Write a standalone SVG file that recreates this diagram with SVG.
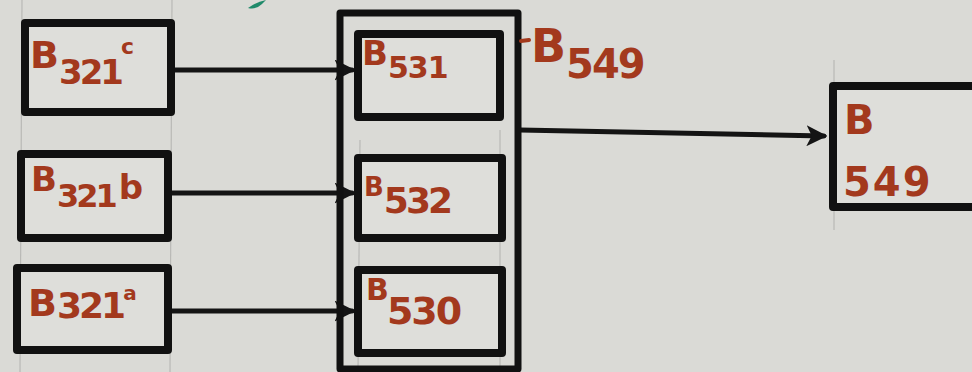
<svg xmlns="http://www.w3.org/2000/svg" width="972" height="372" viewBox="0 0 972 372">
  <defs>
    <style>
      .bg { fill: #dadad6; }
      .guide { stroke: #b9b9b6; stroke-width: 1.2; fill: none; }
      .box { fill: #dededa; stroke: #111111; stroke-width: 8; stroke-linejoin: round; }
      .frame { fill: none; stroke: #111111; stroke-width: 7; stroke-linejoin: round; }
      .line { stroke: #141414; stroke-width: 5; fill: none; stroke-linecap: round; }
      .lbl { font-family: "DejaVu Sans", "Liberation Sans", sans-serif; font-weight: bold; fill: #a3391d; }
    </style>
    <marker id="arrow" viewBox="0 0 12 12" refX="10" refY="6" markerWidth="4.2" markerHeight="4.2" orient="auto" markerUnits="strokeWidth">
      <path d="M0,0 L12,6 L0,12 L3,6 Z" fill="#141414"/>
    </marker>
  </defs>

  <rect class="bg" x="0" y="0" width="972" height="372"/>

  <!-- faint pencil guides -->
  <line class="guide" x1="22" y1="0" x2="20" y2="372"/>
  <line class="guide" x1="172" y1="0" x2="170" y2="372"/>
  <line class="guide" x1="360" y1="140" x2="358" y2="372"/>
  <line class="guide" x1="500" y1="130" x2="500" y2="372"/>
  <line class="guide" x1="834" y1="60" x2="834" y2="230"/>
  <!-- green pen mark -->
  <path d="M248,8 Q256,2 266,0 L262,4 Q256,10 248,8 Z" fill="#1f8a6a"/>

  <!-- connectors -->
  <g id="connectors">
    <line class="line" x1="172" y1="70" x2="352" y2="70" marker-end="url(#arrow)"/>
    <line class="line" x1="168" y1="193" x2="352" y2="193" marker-end="url(#arrow)"/>
    <line class="line" x1="168" y1="311" x2="352" y2="311" marker-end="url(#arrow)"/>
    <line class="line" x1="520" y1="130" x2="824" y2="136" marker-end="url(#arrow)"/>
  </g>

  <!-- left column -->
  <g id="node-B321c">
    <rect class="box" x="25" y="23" width="146" height="89"/>
    <text class="lbl" x="30" y="68" font-size="38">B<tspan font-size="34" dy="16" letter-spacing="-3">321</tspan><tspan font-size="22" dy="-30">c</tspan></text>
  </g>
  <g id="node-B321b">
    <rect class="box" x="21" y="154" width="147" height="84"/>
    <text class="lbl" x="31" y="191" font-size="34">B<tspan font-size="32" dy="16" letter-spacing="-3">321</tspan><tspan font-size="34" dy="-8" dx="4">b</tspan></text>
  </g>
  <g id="node-B321a">
    <rect class="box" x="17" y="268" width="151" height="82"/>
    <text class="lbl" x="28" y="316" font-size="38">B<tspan font-size="36" dy="2" letter-spacing="-3">321</tspan><tspan font-size="20" dy="-18">a</tspan></text>
  </g>

  <!-- middle group -->
  <g id="group-B549">
    <rect class="frame" x="340" y="13" width="178" height="356"/>
    <line x1="521" y1="41" x2="529" y2="40" stroke="#a3391d" stroke-width="4" stroke-linecap="round"/>
    <text class="lbl" x="531" y="62" font-size="46">B<tspan font-size="40" dy="16" letter-spacing="-2">549</tspan></text>
  </g>
  <g id="node-B531">
    <rect class="box" x="358" y="34" width="142" height="83"/>
    <text class="lbl" x="362" y="65" font-size="34">B<tspan font-size="30" dy="13" letter-spacing="-1">531</tspan></text>
  </g>
  <g id="node-B532">
    <rect class="box" x="358" y="158" width="144" height="80"/>
    <text class="lbl" x="364" y="196" font-size="26">B<tspan font-size="36" dy="17" letter-spacing="-3">532</tspan></text>
  </g>
  <g id="node-B530">
    <rect class="box" x="358" y="270" width="144" height="83"/>
    <text class="lbl" x="366" y="300" font-size="30">B<tspan font-size="38" dy="24" dx="-2" letter-spacing="-2">530</tspan></text>
  </g>

  <!-- right node -->
  <g id="node-B549">
    <rect class="box" x="833" y="86" width="150" height="121"/>
    <text class="lbl" font-size="40"><tspan x="844" y="134">B</tspan><tspan x="843" y="196" letter-spacing="2">549</tspan></text>
  </g>
</svg>
